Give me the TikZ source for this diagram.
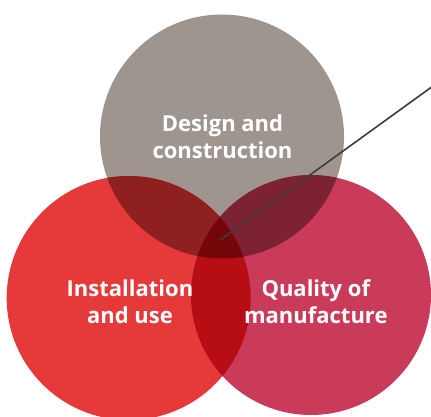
\documentclass[tikz,border=0pt]{standalone}
\usepackage{fontspec}
\setmainfont{Open Sans}
\definecolor{cgrey}{HTML}{9E958F}
\definecolor{cred}{HTML}{E5393A}
\definecolor{ccrim}{HTML}{CA3B5A}
\definecolor{cgr}{HTML}{8E201F}
\definecolor{cgc}{HTML}{7C2233}
\definecolor{crc}{HTML}{B70E15}
\definecolor{call}{HTML}{740609}
\definecolor{cline}{HTML}{3C3C3C}
\tikzset{
  x=1pt, y=-1pt,
  lbl/.style={text=white, font=\fontsize{22}{26.6}\selectfont\bfseries, align=center, inner sep=0pt},
  ring/.style={circle, inner sep=0pt, draw=none},
  pointer/.style={draw=cline, line width=1.6pt, line cap=round}
}
\begin{document}
\begin{tikzpicture}
\useasboundingbox (0,0) rectangle (431,417);
\clip (0,0) rectangle (431,417);
% circle nodes
\node[ring, minimum size=244pt] (design) at (222,136.5) {};
\node[ring, minimum size=244pt] (install) at (128.7,298) {};
\node[ring, minimum size=240pt] (quality) at (311,295) {};
% base fills
\fill[cgrey] (design.center) circle[radius=122];
\fill[cred] (install.center) circle[radius=122];
\fill[ccrim] (quality.center) circle[radius=120];
% pairwise overlaps
\begin{scope}
  \clip (design.center) circle[radius=122];
  \fill[cgr] (install.center) circle[radius=122];
  \fill[cgc] (quality.center) circle[radius=120];
\end{scope}
\begin{scope}
  \clip (install.center) circle[radius=122];
  \fill[crc] (quality.center) circle[radius=120];
\end{scope}
% triple overlap
\begin{scope}
  \clip (design.center) circle[radius=122];
  \clip (install.center) circle[radius=122];
  \fill[call] (quality.center) circle[radius=120];
\end{scope}
% labels (base anchor = baseline of last line)
\node[lbl, anchor=base] (t1) at (222.5,158.3) {Design and\\construction};
\node[lbl, anchor=base] (t2) at (130,323.3) {Installation\\and use};
\node[lbl, anchor=base] (t3) at (315.8,323.3) {Quality of\\manufacture};
% pointer line
\coordinate (hub) at (221,239.3);
\coordinate (tip) at (433,86);
\draw[pointer] (hub) -- (tip);
\end{tikzpicture}
\end{document}
